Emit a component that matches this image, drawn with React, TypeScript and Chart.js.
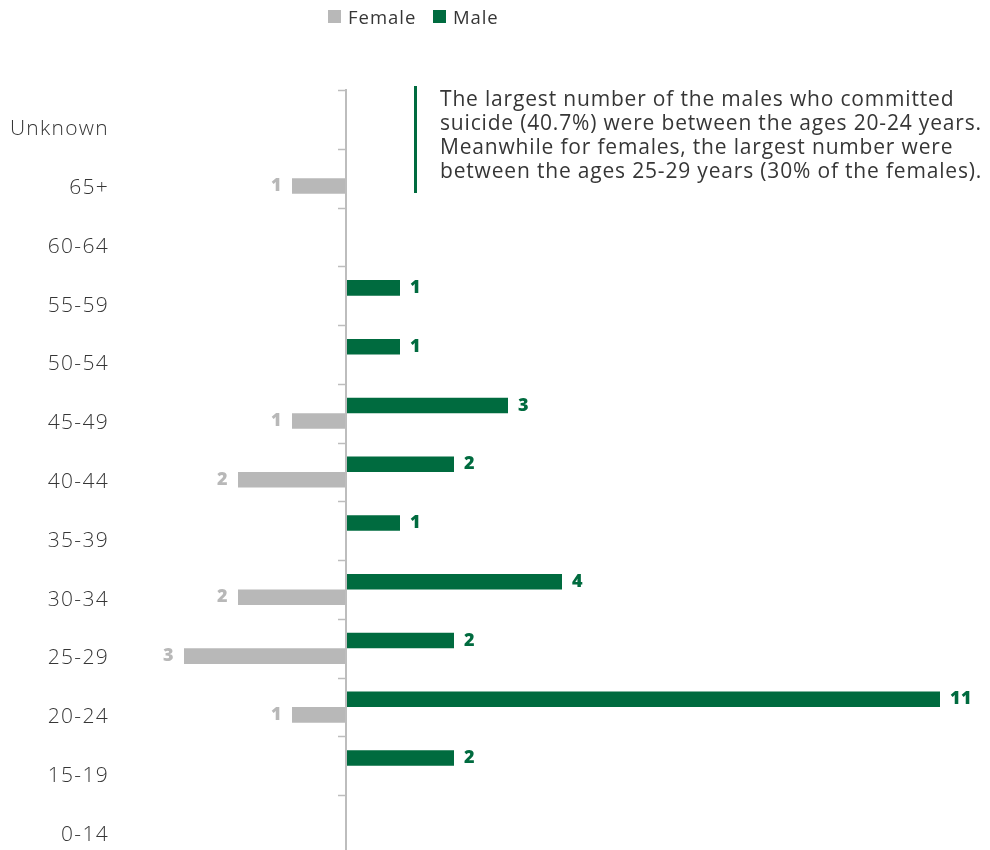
import React, { useEffect, useRef } from "react";
import { Chart, registerables } from "chart.js";

Chart.register(...registerables);

const categories = ["Unknown", "65+", "60-64", "55-59", "50-54", "45-49", "40-44", "35-39", "30-34", "25-29", "20-24", "15-19", "0-14"];
const maleValues = [0, 0, 0, 1, 1, 3, 2, 1, 4, 2, 11, 2, 0];
const femaleValues = [0, 1, 0, 0, 0, 1, 2, 0, 2, 3, 1, 0, 0];

const GREEN = "#006b3f";
const GREY = "#b8b8b8";
const TEXT = "#363636";
const FONT = "'Open Sans', 'DejaVu Sans', sans-serif";

const annotationLines = [
  "The largest number of the males who committed",
  "suicide (40.7%) were between the ages 20-24 years.",
  "Meanwhile for females, the largest number were",
  "between the ages 25-29 years (30% of the females).",
];

const spacingPlugin = {
  id: "spacing",
  beforeDraw(chart: any) {
    chart.ctx.letterSpacing = "1.3px";
  },
  afterDraw(chart: any) {
    chart.ctx.letterSpacing = "0px";
  },
};

const zeroAxisPlugin = {
  id: "zeroAxis",
  afterDatasetsDraw(chart: any) {
    const { ctx, chartArea, scales } = chart;
    const x0 = scales.x.getPixelForValue(0);
    const ys = scales.y;
    const band = ys.getPixelForValue(1) - ys.getPixelForValue(0);
    ctx.save();
    ctx.strokeStyle = "#bdbdbd";
    ctx.lineWidth = 2;
    ctx.beginPath();
    ctx.moveTo(x0, chartArea.top - 1);
    ctx.lineTo(x0, chartArea.bottom);
    ctx.stroke();
    ctx.lineWidth = 1.5;
    for (let i = 0; i <= categories.length; i++) {
      const y = Math.round(ys.getPixelForValue(i) - band / 2) + 0.5;
      ctx.beginPath();
      ctx.moveTo(x0 - 8, y);
      ctx.lineTo(x0, y);
      ctx.stroke();
    }
    ctx.restore();
  },
};

const valueLabelPlugin = {
  id: "valueLabels",
  afterDatasetsDraw(chart: any) {
    const { ctx } = chart;
    ctx.save();
    ctx.font = `800 18px ${FONT}`;
    ctx.letterSpacing = "0.5px";
    ctx.textBaseline = "middle";
    chart.data.datasets.forEach((ds: any, di: number) => {
      const meta = chart.getDatasetMeta(di);
      meta.data.forEach((el: any, i: number) => {
        const v = ds.data[i];
        if (!v) return;
        ctx.fillStyle = ds.labelColor;
        if (v > 0) {
          ctx.textAlign = "left";
          ctx.fillText(String(Math.abs(v)), el.x + 10, el.y);
        } else {
          ctx.textAlign = "right";
          ctx.fillText(String(Math.abs(v)), el.x - 10, el.y);
        }
      });
    });
    ctx.restore();
  },
};

export default function App() {
  const ref = useRef<HTMLCanvasElement | null>(null);

  useEffect(() => {
    if (!ref.current) return;
    const chart = new Chart(ref.current, {
      type: "bar",
      data: {
        labels: categories,
        datasets: [
          {
            label: "Male",
            data: maleValues,
            backgroundColor: GREEN,
            labelColor: GREEN,
          } as any,
          {
            label: "Female",
            data: femaleValues.map((v) => -v),
            backgroundColor: GREY,
            labelColor: GREY,
          } as any,
        ],
      },
      options: {
        indexAxis: "y",
        responsive: false,
        animation: false,
        categoryPercentage: 0.53,
        barPercentage: 1,
        layout: { padding: { top: 82, right: 15, bottom: 4, left: 0 } },
        plugins: {
          legend: { display: false },
          tooltip: { enabled: false },
        },
        scales: {
          x: { display: false, min: -4, max: 11.5 },
          y: {
            grid: { display: false },
            border: { display: false },
            ticks: {
              padding: 13,
              labelOffset: 10,
              color: TEXT,
              font: { family: FONT, size: 21, weight: 300 as any },
            },
            afterFit(scale: any) {
              scale.width = 122;
              scale.paddingTop = 0;
              scale.paddingBottom = 0;
            },
          },
        },
      } as any,
      plugins: [spacingPlugin, zeroAxisPlugin, valueLabelPlugin],
    });
    return () => chart.destroy();
  }, []);

  return (
    <div style={{ position: "relative", width: 974, height: 850, fontFamily: FONT }}>
      <canvas ref={ref} width={974} height={850} style={{ display: "block", width: 974, height: 850 }} />
      <div style={{ position: "absolute", left: 320, top: 2, width: 13, height: 13, background: GREY }} />
      <div style={{ position: "absolute", left: 340, top: -3, fontSize: 18.5, letterSpacing: "1px", lineHeight: "24px", color: TEXT, whiteSpace: "nowrap" }}>Female</div>
      <div style={{ position: "absolute", left: 425, top: 2, width: 13, height: 13, background: GREEN }} />
      <div style={{ position: "absolute", left: 445, top: -3, fontSize: 18.5, letterSpacing: "0.9px", lineHeight: "24px", color: TEXT, whiteSpace: "nowrap" }}>Male</div>
      <div style={{ position: "absolute", left: 406, top: 78, width: 2.5, height: 107, background: GREEN }} />
      <div style={{ position: "absolute", left: 432, top: 78, fontSize: 21, letterSpacing: "0.82px", lineHeight: "24px", color: TEXT, whiteSpace: "nowrap" }}>
        {annotationLines.map((l, i) => (
          <div key={i}>{l}</div>
        ))}
      </div>
    </div>
  );
}
